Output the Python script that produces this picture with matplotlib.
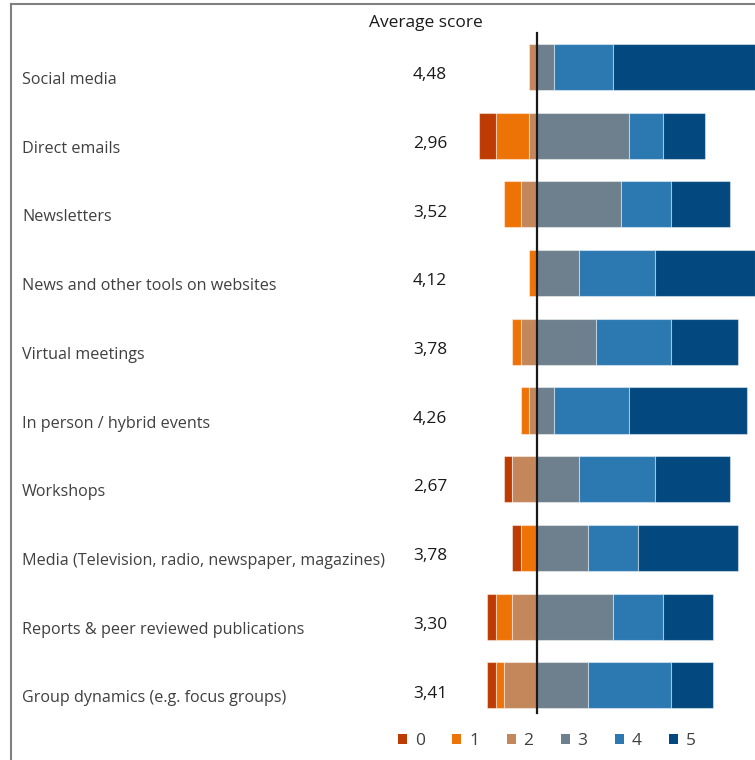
import numpy as np
import matplotlib.pyplot as plt
from matplotlib.patches import Patch
from matplotlib.lines import Line2D
import matplotlib.transforms as mtransforms

plt.rcParams['font.family'] = ['Open Sans', 'DejaVu Sans']

categories = [
    "Social media",
    "Direct emails",
    "Newsletters",
    "News and other tools on websites",
    "Virtual meetings",
    "In person / hybrid events",
    "Workshops",
    "Media (Television, radio, newspaper, magazines)",
    "Reports & peer reviewed publications",
    "Group dynamics (e.g. focus groups)",
]
avg_labels = ["4,48", "2,96", "3,52", "4,12", "3,78", "4,26", "2,67", "3,78", "3,30", "3,41"]

# number of respondents giving each score
score0 = [0, 2, 0, 0, 0, 0, 1, 1, 1, 1]
score1 = [0, 4, 2, 1, 1, 1, 0, 2, 2, 1]
score2 = [1, 1, 2, 0, 2, 1, 3, 0, 3, 4]
score3 = [2, 11, 10, 5, 7, 2, 5, 6, 9, 6]
score4 = [7, 4, 6, 9, 9, 9, 9, 6, 6, 10]
score5 = [17, 5, 7, 12, 8, 14, 9, 12, 6, 5]

score_names = ["0", "1", "2", "3", "4", "5"]
colors = ["#BE3B03", "#EE7307", "#C4875C", "#6E7F8D", "#2C78B0", "#03497F"]

fig = plt.figure(figsize=(7.55, 7.60), dpi=100)
ax = fig.add_axes([0, 0, 1, 1])
ax.set_xlim(-64.2, 26.0)
ax.set_ylim(10.087, -0.975)
ax.axis("off")

y = np.arange(len(categories))
left_counts = [score0, score1, score2]
right_counts = [score3, score4, score5]

# negative side: 0,1,2 stacked leftwards from the centre line
neg = np.array(score0) + np.array(score1) + np.array(score2)
start = -neg.astype(float)
for vals, col in zip(left_counts, colors[:3]):
    vals = np.array(vals, dtype=float)
    ax.barh(y, vals, left=start, height=0.67, color=col,
            edgecolor=(1, 1, 1, 0.45), linewidth=0.8)
    start = start + vals

start = np.zeros(len(categories))
for vals, col in zip(right_counts, colors[3:]):
    vals = np.array(vals, dtype=float)
    ax.barh(y, vals, left=start, height=0.67, color=col,
            edgecolor=(1, 1, 1, 0.45), linewidth=0.8)
    start = start + vals

# centre line
ax.plot([0, 0], [-0.49, 9.41], color="#1a1a1a", lw=1.6)

trans = mtransforms.blended_transform_factory(ax.transAxes, ax.transData)
for i, (cat, lab) in enumerate(zip(categories, avg_labels)):
    ax.text(22 / 755, i + 0.19, cat, transform=trans, ha="left", va="center",
            fontsize=11.6, color="#404040")
    ax.text(430 / 755, i + 0.12, lab, transform=trans, ha="center", va="center",
            fontsize=12.4, color="#1a1a1a")

fig.text(426 / 755, 1 - 23 / 760, "Average score", ha="center", va="center",
         fontsize=12.5, color="#1a1a1a")

# frame on the top and left
fig.add_artist(Line2D([11 / 755, 1], [1 - 3.5 / 760, 1 - 3.5 / 760],
                      transform=fig.transFigure, color="#808080", lw=1.5))
fig.add_artist(Line2D([11 / 755, 11 / 755], [0, 1 - 3.5 / 760],
                      transform=fig.transFigure, color="#808080", lw=1.5))

handles = [Patch(facecolor=c, edgecolor="none") for c in colors]
fig.legend(handles, score_names, loc="center", bbox_to_anchor=(547 / 755, 19 / 760),
           ncol=6, frameon=False, handlelength=0.52, handleheight=0.52,
           handletextpad=0.45, columnspacing=1.57, fontsize=12.5, labelcolor="#404040")

fig.savefig("out.png", dpi=100)
